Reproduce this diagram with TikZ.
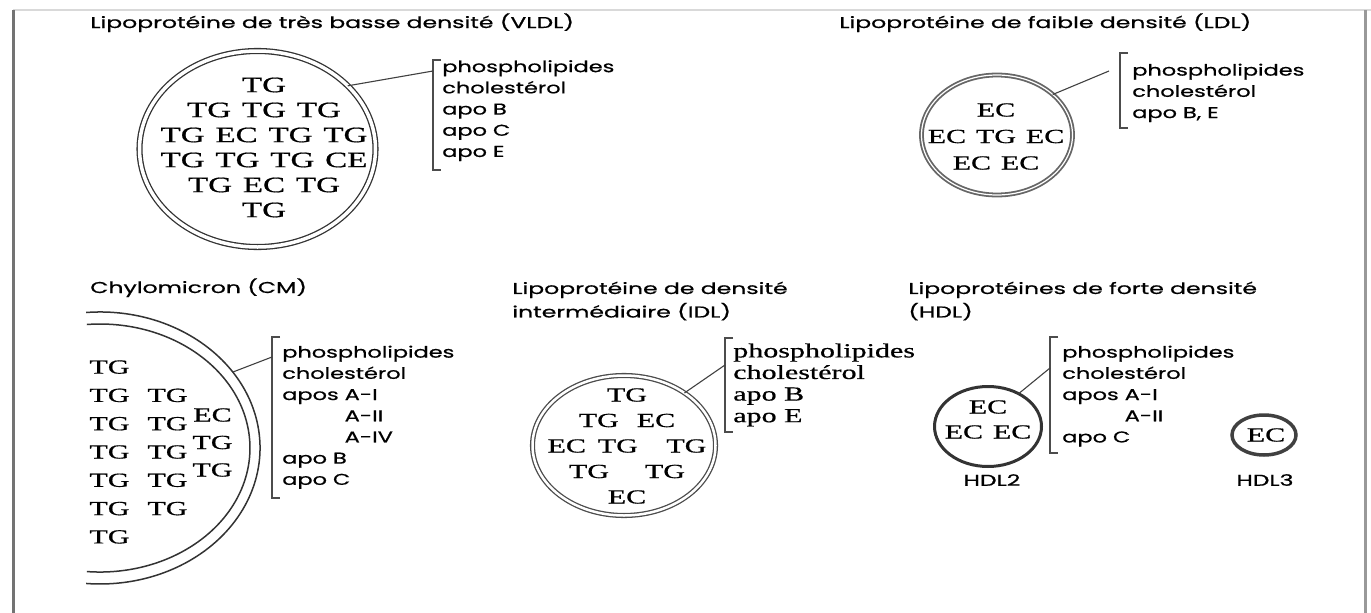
\documentclass[tikz,border=0pt]{standalone}
\usepackage{fontspec}
\setmainfont{Liberation Serif}[FakeBold=0.6]
\newfontfamily\labfont{Poppins}[FakeBold=0.6]
\usetikzlibrary{shapes.geometric}

\newcommand\gp{\hspace{.33em}}

\begin{document}
\begin{tikzpicture}[x=1pt,y=-1pt,
  lab/.style={inner sep=0pt, align=left, transform shape},
  ttl/.style={lab, font=\labfont\fontsize{15.7}{23.5}\selectfont, xscale=1.5},
  lst/.style={lab, font=\labfont\fontsize{15.7}{21.2}\selectfont, xscale=1.43},
  core/.style={font=\fontsize{20}{26}\selectfont, inner sep=0pt, align=center, xscale=1.5, transform shape},
  shell/.style={ellipse, draw=black!80, inner sep=0pt, outer sep=0pt},
  wall/.style={double, double distance=#1, line width=1.3pt},
  brk/.style={line width=1.2pt, draw=black!70},
  link/.style={line width=1.1pt, draw=black!75}]

\useasboundingbox (0,0) rectangle (1371,613);

% frame
\draw[line width=2.5pt, black!15] (13,10) -- (1371,10);
\draw[line width=3pt, black!55] (13,10) -- (13,613);
\draw[line width=3pt, black!40] (1365,10) -- (1365,613);

% VLDL
\node[ttl, anchor=base west] (tvldl) at (90,28) {Lipoprotéine de très basse densité (VLDL)};
\node[shell, wall=3.5pt, minimum width=236pt, minimum height=196pt] (vldl) at (257.5,149) {};
\node[core, font=\fontsize{22}{25}\selectfont] (cvldl) at (264,147.5)
  {TG\\TG\gp TG\gp TG\\TG\gp EC\gp TG\gp TG\\TG\gp TG\gp TG\gp CE\\TG\gp EC\gp TG\\TG};
\node[lst, anchor=north west] (lvldl) at (442,60) {phospholipides\\cholestérol\\apo B\\apo C\\apo E};
\draw[brk] (441,60) -- (433,60) -- (433,170) -- (441,170);
\coordinate (bvldl) at (433,71);
\draw[link] (vldl.35) -- (bvldl);

% LDL
\node[ttl, anchor=base west] (tldl) at (839,28) {Lipoprotéine de faible densité (LDL)};
\node[shell, draw=black!60, wall=1.2pt, line width=1.8pt, minimum width=151pt, minimum height=120pt] (ldl) at (997,135) {};
\node[core, font=\fontsize{20}{26.5}\selectfont] (cldl) at (996,136.5) {EC\\EC\gp TG\gp EC\\EC\gp EC};
\node[lst, anchor=north west] (lldl) at (1132,63.5) {phospholipides\\cholestérol\\apo B, E};
\draw[brk] (1128,53) -- (1120,53) -- (1120,128) -- (1128,128);
\coordinate (bldl) at (1109,71);
\draw[link] (ldl.36) -- (bldl);

% CM
\node[ttl, anchor=base west] (tcm) at (90,293) {Chylomicron (CM)};
\draw[line width=1.5pt, black!80] (86.1,312.5) arc[start angle=95, end angle=-95, x radius=160pt, y radius=136pt];
\draw[line width=1.5pt, black!80] (86.9,324.5) arc[start angle=95, end angle=-95, x radius=150pt, y radius=124pt];
\coordinate (cmedge) at (233,372);
\node[core, font=\fontsize{20}{28.3}\selectfont, align=left] (ccm) at (138.5,452)
  {TG\\TG\hspace{12pt}TG\\TG\hspace{12pt}TG\\TG\hspace{12pt}TG\\TG\hspace{12pt}TG\\TG\hspace{12pt}TG\\TG};
\node[core, font=\fontsize{20}{27.5}\selectfont] (ecm) at (212.5,442.5) {EC\\TG\\TG};
\node[lst, anchor=north west] (lcm) at (282,345.5)
  {phospholipides\\cholestérol\\apos A-I\\\phantom{apos }A-II\\\phantom{apos }A-IV\\apo B\\apo C};
\draw[brk] (280,337) -- (272,337) -- (272,498) -- (280,498);
\coordinate (bcm) at (272,357);
\draw[link] (cmedge) -- (bcm);

% IDL
\node[ttl, anchor=north west] (tidl) at (512,281.5) {Lipoprotéine de densité\\intermédiaire (IDL)};
\node[shell, draw=black!70, wall=2.5pt, minimum width=183pt, minimum height=140pt] (idl) at (624,445.5) {};
\node[core, font=\fontsize{20}{25.5}\selectfont] (cidl) at (627,446)
  {TG\\TG\hspace{12pt}EC\\EC\hspace{8pt}TG\hspace{19pt}TG\\TG\hspace{24pt}TG\\EC};
\node[lab, xscale=1.5, anchor=north west, font=\fontsize{20}{21.6}\selectfont] (lidl) at (733,343.3)
  {phospholipides\\cholestérol\\apo B\\apo E};
\draw[brk] (733,338) -- (725,338) -- (725,432) -- (733,432);
\coordinate (bidl) at (725,365);
\draw[link] (idl.41) -- (bidl);

% HDL
\node[ttl, anchor=north west] (thdl) at (908,281.5) {Lipoprotéines de forte densité\\(HDL)};
\node[shell, line width=3pt, minimum width=107pt, minimum height=80pt] (hdl2) at (988,426.5) {};
\node[core, font=\fontsize{20}{25}\selectfont] (chdl2) at (988,419.5) {EC\\EC\gp EC};
\node[ttl] (nhdl2) at (992,480) {HDL2};
\node[lst, anchor=north west] (lhdl) at (1062,345.5)
  {phospholipides\\cholestérol\\apos A-I\\\phantom{apos }A-II\\apo C};
\draw[brk] (1058,337) -- (1050,337) -- (1050,453) -- (1058,453);
\coordinate (bhdl) at (1050,368);
\draw[link] (hdl2.47) -- (bhdl);
\node[shell, line width=3.5pt, draw=black!75, minimum width=64pt, minimum height=40pt] (hdl3) at (1264,435) {};
\node[core] (chdl3) at (1266,435) {EC};
\node[ttl] (nhdl3) at (1265,480) {HDL3};

\end{tikzpicture}
\end{document}
